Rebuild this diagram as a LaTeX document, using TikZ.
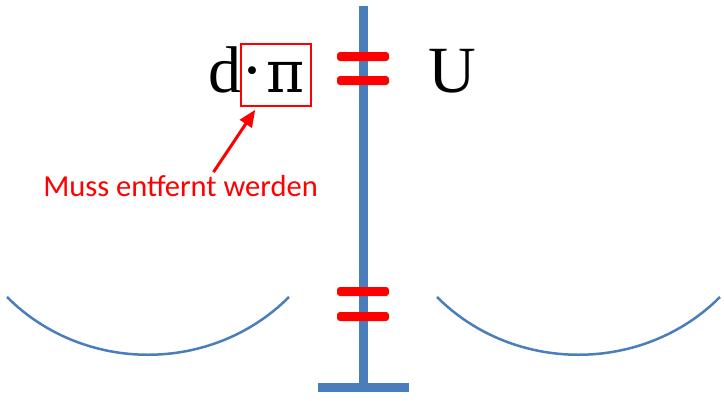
\documentclass[tikz,border=0pt]{standalone}
\usepackage{fontspec}
\setmainfont{Liberation Serif}
\newfontfamily\notefont{Carlito}
\newfontfamily\greekfont{DejaVu Serif}
\usepackage{xcolor}
\usetikzlibrary{positioning,arrows.meta,calc}
\definecolor{scaleblue}{RGB}{74,126,187}
\definecolor{markred}{RGB}{255,0,0}
\tikzset{
  term/.style   = {inner sep=0pt, anchor=base west, font=\fontsize{66}{70}\selectfont},
  pole/.style   = {draw=scaleblue, line width=9pt},
  pan/.style    = {draw=scaleblue, line width=2.5pt},
  eqbar/.style  = {fill=markred, rounded corners=3pt},
  cutbox/.style = {draw=markred, line width=1.5pt, minimum width=70pt, minimum height=62pt, inner sep=0pt},
  note/.style   = {text=markred, font=\notefont\fontsize{30.5}{32}\selectfont, inner sep=0pt},
  flow/.style   = {-{Triangle[length=17pt,width=14pt]}, line width=3pt, draw=markred},
}

\begin{document}
\begin{tikzpicture}[x=1pt,y=-1pt]
  \useasboundingbox (0,0) rectangle (724,400);
  \coordinate (top) at (363.5,6);
  \coordinate (foot) at (363.5,383);
  \draw[pole] (top) -- (foot);
  \fill[scaleblue] (318,383) rectangle (409,392);
  \fill[eqbar] (337,52) rectangle (389,61);
  \fill[eqbar] (337,76) rectangle (389,85);
  \fill[eqbar] (337,287) rectangle (389,296);
  \fill[eqbar] (337,312) rectangle (389,321);
  \draw[pan] (7,297) .. controls (84,374) and (212,374) .. (289,297);
  \draw[pan] (437,297) .. controls (514,374) and (643,374) .. (720,297);
  \node[term] (lhs) at (208,92) {d·\hspace{3pt}{\greekfont\fontsize{58}{60}\selectfont π}};
  \node[term] (rhs) at (428,92) {U};
  \node[cutbox] (cut) at (276,75) {};
  \node[note] (hint) at (180.5,186) {Muss entfernt werden};
  \draw[flow] ([xshift=33pt,yshift=3pt]hint.north) -- ([xshift=15pt,yshift=-3pt]cut.south west);
\end{tikzpicture}
\end{document}
